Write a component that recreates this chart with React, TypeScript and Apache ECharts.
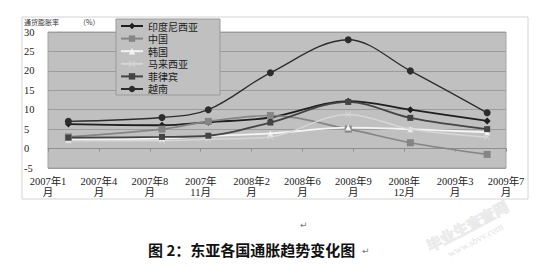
import React, { useEffect, useRef } from "react";
import * as echarts from "echarts";

// ---- data ----
const axisStart = "2007-01-20"; // first tick of the date axis
const tickStepDays = 100;
const tickLabels = [
  "2007年1\n月",
  "2007年4\n月",
  "2007年8\n月",
  "2007年\n11月",
  "2008年2\n月",
  "2008年6\n月",
  "2008年9\n月",
  "2008年\n12月",
  "2009年3\n月",
  "2009年7\n月",
];
const sampleMonths = ["2007-03", "2007-09", "2007-12", "2008-04", "2008-09", "2009-01", "2009-06"];

const seriesNames = ["印度尼西亚", "中国", "韩国", "马来西亚", "菲律宾", "越南"];
const indonesia = [6.3, 6.0, 6.8, 8.0, 12.2, 10.0, 7.1];
const china = [3.0, 5.0, 7.0, 8.5, 5.0, 1.5, -1.5];
const korea = [2.3, 2.6, 3.2, 3.9, 5.4, 5.0, 4.2];
const malaysia = [2.0, 2.0, 2.4, 3.0, 8.8, 5.0, 3.0];
const philippines = [2.8, 3.0, 3.3, 6.7, 12.0, 7.9, 5.0];
const vietnam = [7.0, 8.0, 10.0, 19.5, 28.0, 20.0, 9.2];

const yTitle = "通货膨胀率";
const yUnit = "（%）";
const caption = "图 2：东亚各国通胀趋势变化图";
const watermark = "毕业生查查网";
const watermarkUrl = "www.sbvv.com";

const DAY = 86400000;
function dayOffset(ym: string): number {
  const [y, m] = ym.split("-").map(Number);
  const [sy, sm, sd] = axisStart.split("-").map(Number);
  return (Date.UTC(y, m - 1, 1) - Date.UTC(sy, sm - 1, sd)) / DAY;
}
const xs = sampleMonths.map(dayOffset);
const pts = (vals: number[]) => vals.map((v, i) => [xs[i], v]);

const X_PATH = "path://M0,1L1,0L5,4L9,0L10,1L6,5L10,9L9,10L5,6L1,10L0,9L4,5Z";

export default function App() {
  const ref = useRef<HTMLDivElement>(null);
  useEffect(() => {
    if (!ref.current) return;
    const chart = echarts.init(ref.current, undefined, { renderer: "svg" });
    const maxX = tickStepDays * (tickLabels.length - 1);
    const cjk = "'Noto Sans CJK SC', sans-serif";
    const serif = "'Liberation Serif', 'Noto Sans CJK SC', serif";
    const mk = (
      name: string,
      vals: number[],
      color: string,
      width: number,
      symbol: string,
      size: number
    ) => ({
      name,
      type: "line",
      data: pts(vals),
      smooth: 0.35,
      symbol,
      symbolSize: size,
      showSymbol: true,
      lineStyle: { color, width },
      itemStyle: { color, borderWidth: 0 },
      emphasis: { disabled: true },
    });
    const rot = (28 * Math.PI) / 180;
    chart.setOption({
      animation: false,
      graphic: [
        {
          type: "rect",
          z: -10,
          shape: { x: 22, y: 17, width: 506, height: 182 },
          style: { fill: "#ffffff", stroke: "#d4d4d4", lineWidth: 1 },
        },
        {
          type: "text",
          x: 24,
          y: 18,
          style: { text: yTitle, fontSize: 7, fill: "#333", fontFamily: cjk },
        },
        {
          type: "text",
          x: 79,
          y: 18,
          style: { text: yUnit, fontSize: 7, fill: "#333", fontFamily: cjk },
        },
        {
          type: "text",
          x: 300,
          y: 220,
          style: { text: "↵", fontSize: 9, fill: "#777", fontFamily: "'DejaVu Sans'" },
        },
        {
          type: "text",
          x: 148,
          y: 242,
          style: { text: caption, fontSize: 15, fontWeight: "bold", fill: "#111", fontFamily: cjk },
        },
        {
          type: "text",
          x: 362,
          y: 246,
          style: { text: "↵", fontSize: 9, fill: "#777", fontFamily: "'DejaVu Sans'" },
        },
        {
          type: "text",
          x: 424,
          y: 240,
          rotation: rot,
          style: { text: watermark, fontSize: 15, fontWeight: "bold", fill: "#ececec", stroke: "#dcdcdc", lineWidth: 0.6, fontFamily: cjk },
        },
        {
          type: "text",
          x: 446,
          y: 250,
          rotation: rot,
          style: { text: watermarkUrl, fontSize: 10, fill: "#e2e2e2", fontFamily: serif },
        },
      ],
      legend: {
        orient: "vertical",
        left: 116,
        top: 19,
        itemWidth: 22,
        itemHeight: 8,
        itemGap: 2.6,
        padding: [2, 22, 1, 4],
        backgroundColor: "#c0c0c0",
        borderColor: "#9a9a9a",
        borderWidth: 1,
        textStyle: { fontSize: 10, color: "#222", fontFamily: cjk },
        data: seriesNames,
      },
      grid: {
        left: 48,
        right: 35,
        top: 32,
        bottom: 99,
        show: true,
        backgroundColor: "#c0c0c0",
        borderColor: "#a4a4a4",
        borderWidth: 1,
      },
      xAxis: [
        {
          type: "value",
          min: 0,
          max: maxX,
          interval: tickStepDays,
          position: "bottom",
          axisLine: { show: false, onZero: false },
          axisTick: { show: false },
          splitLine: { show: false },
          axisLabel: {
            formatter: (v: number) => tickLabels[Math.round(v / tickStepDays)] ?? "",
            fontSize: 10.5,
            lineHeight: 11,
            margin: 8,
            color: "#222",
            fontFamily: serif,
            showMinLabel: true,
            showMaxLabel: true,
            hideOverlap: false,
          },
        },
        {
          type: "value",
          min: 0,
          max: maxX,
          interval: tickStepDays,
          position: "top",
          axisLine: { show: true, onZero: true, lineStyle: { color: "#8e8e8e", width: 1 } },
          axisTick: { show: true, inside: true, length: 3, lineStyle: { color: "#8e8e8e" } },
          axisLabel: { show: false },
          splitLine: { show: false },
        },
      ],
      yAxis: {
        type: "value",
        min: -5,
        max: 30,
        interval: 5,
        axisLine: { show: false },
        axisTick: { show: false },
        splitLine: { show: true, lineStyle: { color: "#9c9c9c", width: 1 } },
        axisLabel: {
          align: "left",
          margin: 24,
          fontSize: 10.5,
          color: "#222",
          fontFamily: serif,
        },
      },
      series: [
        mk(seriesNames[0], indonesia, "#1e1e1e", 1.8, "diamond", 7),
        mk(seriesNames[1], china, "#858585", 1.6, "rect", 7),
        mk(seriesNames[2], korea, "#f4f4f4", 1.8, "triangle", 6),
        mk(seriesNames[3], malaysia, "#d6d6d6", 1.5, X_PATH, 6),
        mk(seriesNames[4], philippines, "#444444", 1.8, "rect", 6),
        mk(seriesNames[5], vietnam, "#2c2c2c", 1.3, "circle", 7),
      ],
    });
    return () => chart.dispose();
  }, []);
  return (
    <div
      ref={ref}
      style={{ position: "absolute", left: 0, top: 0, width: 541, height: 267 }}
    />
  );
}
